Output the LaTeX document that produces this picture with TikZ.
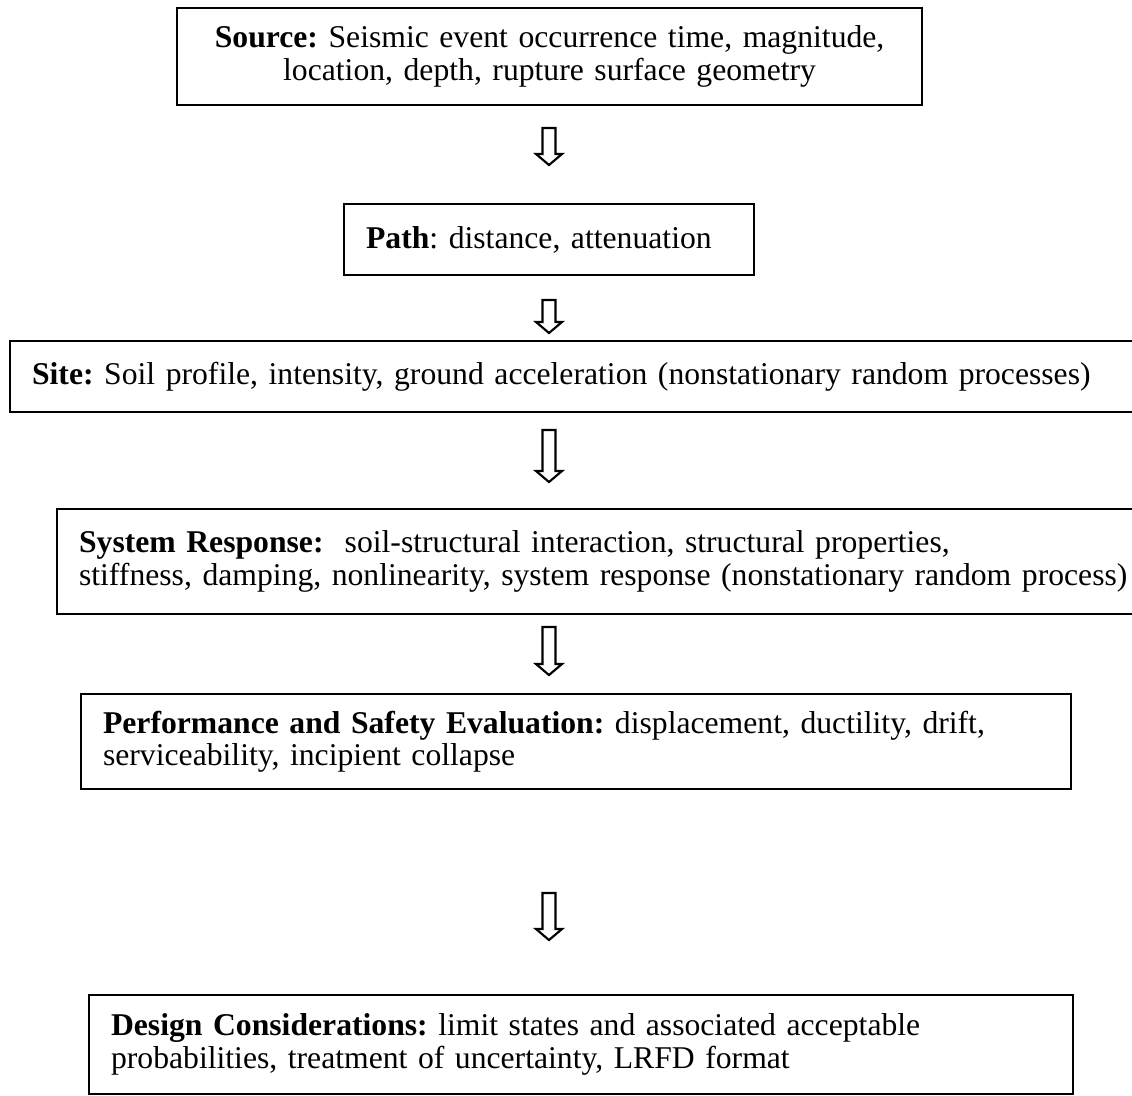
\documentclass[tikz,border=0pt]{standalone}
\usepackage{fontspec}
\setmainfont{Liberation Serif}
\usepackage{tikz}
\usetikzlibrary{positioning, calc}
\frenchspacing

\newcommand{\pxu}{0.42pt}
% hollow block arrow pointing down, from top point #1 to tip #2
\newcommand{\blockdown}[2]{%
  \draw[arrowline] ($(#1)+(-6.5,0)$) -- ($(#2)+(-6.5,-11)$) -- ($(#2)+(-13,-11)$)
    -- (#2) -- ($(#2)+(13,-11)$) -- ($(#2)+(6.5,-11)$) -- ($(#1)+(6.5,0)$) -- cycle;}

\tikzset{
  box/.style={draw, line width=0.9pt, anchor=north west, inner ysep=0pt,
    inner xsep=22*\pxu, align=left, font=\fontsize{13.3}{13.6}\selectfont},
  arrowline/.style={line width=0.9pt, line join=miter}
}

\begin{document}
\begin{tikzpicture}[x=0.42pt, y=-0.42pt]
    \useasboundingbox (0,0) rectangle (1132,1095);

    % --- Boxes ---
    \node[box, align=center, minimum width=745*\pxu, minimum height=97*\pxu,
      text width=701*\pxu] (source) at (176,7)
      {\textbf{Source:} Seismic event occurrence time, magnitude,\\
       location, depth, rupture surface geometry};

    \node[box, minimum width=410*\pxu, minimum height=71*\pxu,
      text width=366*\pxu] (path) at (343,203)
      {\textbf{Path}: distance, attenuation};

    \node[box, minimum width=1140*\pxu, minimum height=71*\pxu,
      text width=1096*\pxu] (site) at (9,340)
      {\textbf{Site:} Soil profile, intensity, ground acceleration (nonstationary random processes)};

    \node[box, minimum width=1100*\pxu, minimum height=105*\pxu,
      text width=1056*\pxu] (response) at (56,508)
      {\textbf{System Response:}\ \ soil-structural interaction, structural properties,\\
       stiffness, damping, nonlinearity, system response (nonstationary random process)};

    \node[box, minimum width=990*\pxu, minimum height=95*\pxu,
      text width=946*\pxu] (performance) at (80,693)
      {\textbf{Performance and Safety Evaluation:} displacement, ductility, drift,\\
       serviceability, incipient collapse};

    \node[box, minimum width=984*\pxu, minimum height=99*\pxu,
      text width=940*\pxu] (design) at (88,994)
      {\textbf{Design Considerations:} limit states and associated acceptable\\
       probabilities, treatment of uncertainty, LRFD format};

    % --- Arrows ---
    \coordinate (a1top) at (549,128);
    \coordinate (a1tip) at (549,165);
    \coordinate (a2top) at (549,300);
    \coordinate (a2tip) at (549,333);
    \coordinate (a3top) at (549,430);
    \coordinate (a3tip) at (549,482);
    \coordinate (a4top) at (549,627);
    \coordinate (a4tip) at (549,675);
    \coordinate (a5top) at (549,893);
    \coordinate (a5tip) at (549,940);
    \blockdown{a1top}{a1tip}
    \blockdown{a2top}{a2tip}
    \blockdown{a3top}{a3tip}
    \blockdown{a4top}{a4tip}
    \blockdown{a5top}{a5tip}

\end{tikzpicture}
\end{document}
